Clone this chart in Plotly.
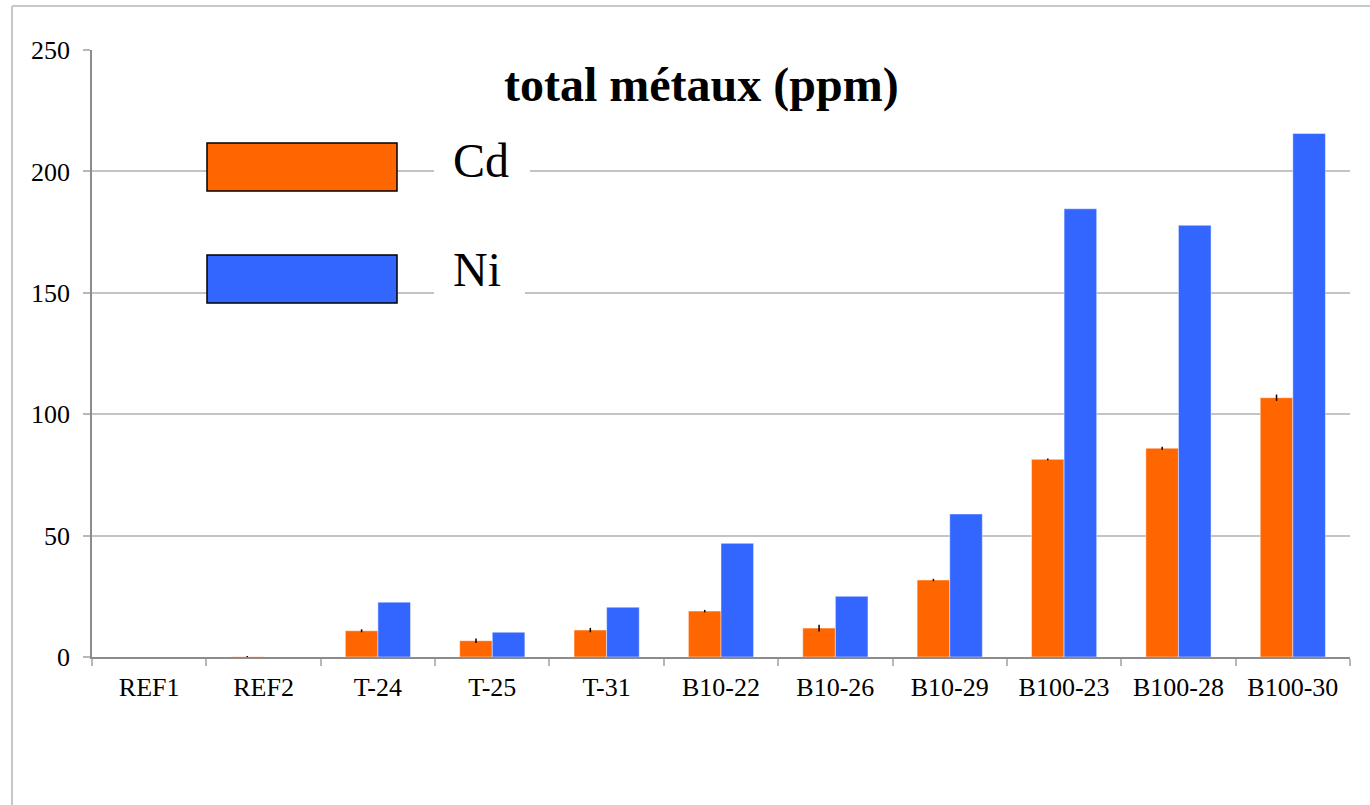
import plotly.graph_objects as go

categories = ["REF1", "REF2", "T-24", "T-25", "T-31", "B10-22", "B10-26", "B10-29",
              "B100-23", "B100-28", "B100-30"]
cd_values = [0, 0.1, 10.8, 6.7, 11.1, 18.9, 11.9, 31.7, 81.4, 86.0, 106.8]
cd_errors = [0, 0.3, 0.6, 0.9, 0.9, 0.5, 1.4, 0.5, 0.4, 0.6, 1.3]
ni_values = [0, 0, 22.6, 10.2, 20.5, 46.8, 25.0, 58.9, 184.6, 177.8, 215.6]
series_names = ["Cd", "Ni"]
title_text = "total métaux (ppm)"
y_ticks = [0, 50, 100, 150, 200, 250]

ORANGE = "#FF6600"
BLUE = "#3366FF"
FONT = "Liberation Serif, Times New Roman, serif"

fig = go.Figure()
fig.add_trace(go.Bar(
    x=categories, y=cd_values, name=series_names[0],
    marker=dict(color=ORANGE, line=dict(color="rgba(255,255,255,0.45)", width=1)),
    error_y=dict(type="data", array=cd_errors, visible=True, color="black",
                 thickness=1.5, width=0),
))
fig.add_trace(go.Bar(
    x=categories, y=ni_values, name=series_names[1],
    marker=dict(color=BLUE, line=dict(color="rgba(255,255,255,0.45)", width=1)),
))

L, T = 92, 50
PW, PH = 1258, 607


def px(x):
    return (x - L) / PW


def py(y):
    return (T + PH - y) / PH


shapes = []
# outer border (top and left)
shapes.append(dict(type="line", xref="paper", yref="paper", x0=px(12), x1=px(1372),
                   y0=py(6), y1=py(6), line=dict(color="#c8c8c8", width=2), layer="below"))
shapes.append(dict(type="line", xref="paper", yref="paper", x0=px(12), x1=px(12),
                   y0=py(6), y1=py(810), line=dict(color="#c8c8c8", width=2), layer="below"))
# legend white boxes behind text
shapes.append(dict(type="rect", xref="paper", yref="paper", x0=px(434), x1=px(530),
                   y0=py(195), y1=py(135), fillcolor="white", line=dict(width=0), layer="above"))
shapes.append(dict(type="rect", xref="paper", yref="paper", x0=px(434), x1=px(525),
                   y0=py(303), y1=py(245), fillcolor="white", line=dict(width=0), layer="above"))
# legend swatches
shapes.append(dict(type="rect", xref="paper", yref="paper", x0=px(207), x1=px(397),
                   y0=py(191), y1=py(143), fillcolor=ORANGE, line=dict(color="black", width=1.5),
                   layer="above"))
shapes.append(dict(type="rect", xref="paper", yref="paper", x0=px(207), x1=px(397),
                   y0=py(303), y1=py(255), fillcolor=BLUE, line=dict(color="black", width=1.5),
                   layer="above"))

annotations = [
    dict(text="<b>" + title_text + "</b>", xref="paper", yref="paper", x=px(701), y=py(85),
         xanchor="center", yanchor="middle", showarrow=False,
         font=dict(family=FONT, size=48, color="black")),
    dict(text=series_names[0], xref="paper", yref="paper", x=px(451), y=py(160),
         xanchor="left", yanchor="middle", showarrow=False,
         font=dict(family=FONT, size=48, color="black")),
    dict(text=series_names[1], xref="paper", yref="paper", x=px(451), y=py(269),
         xanchor="left", yanchor="middle", showarrow=False,
         font=dict(family=FONT, size=48, color="black")),
]

fig.update_layout(
    width=1370, height=805,
    margin=dict(l=L, r=1370 - L - PW, t=T, b=805 - T - PH, pad=0),
    paper_bgcolor="white", plot_bgcolor="white",
    barmode="group", bargap=0.43, bargroupgap=0,
    showlegend=False,
    shapes=shapes, annotations=annotations,
    font=dict(family=FONT, size=26, color="black"),
)
fig.update_xaxes(
    type="category", tickson="boundaries", ticks="outside", ticklen=7,
    tickcolor="#b8b8b8", tickwidth=1.5, showline=True, linecolor="#8c8c8c", linewidth=1.5,
    showgrid=False, tickfont=dict(family=FONT, size=26, color="black"),
    ticklabelstandoff=6,
)
fig.update_yaxes(
    range=[0, 250], tickvals=y_ticks, ticks="outside", ticklen=7, tickcolor="#b8b8b8",
    tickwidth=1.5, showline=True, linecolor="#8c8c8c", linewidth=1.5,
    showgrid=True, gridcolor="#c4c4c4", gridwidth=1.5, zeroline=False,
    tickfont=dict(family=FONT, size=26, color="black"),
    ticklabelstandoff=8,
)

fig.write_html("out.html")
